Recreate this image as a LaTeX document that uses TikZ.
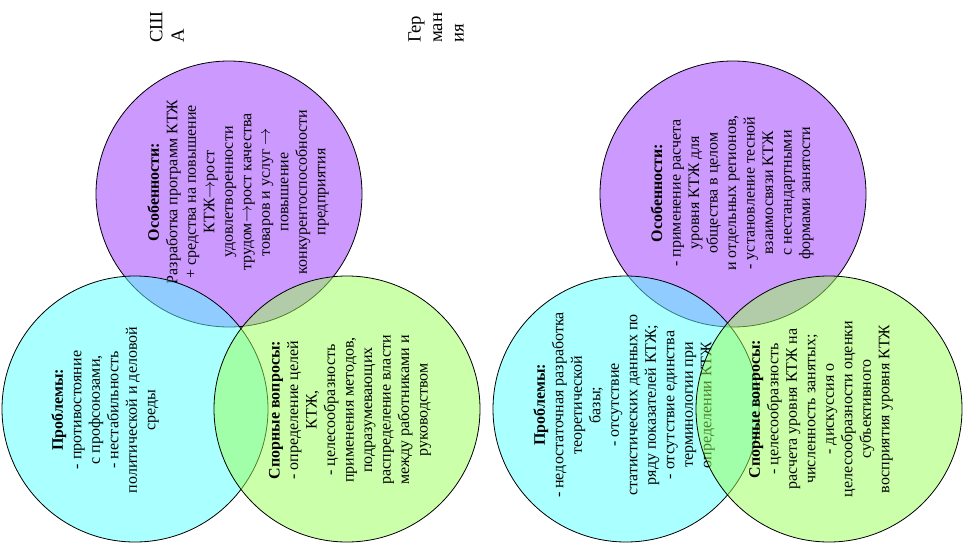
\documentclass[tikz,border=0pt]{standalone}
\usepackage{fontspec}
\setmainfont{Liberation Serif}
\definecolor{pcol}{RGB}{204,153,255}
\definecolor{ccol}{RGB}{85,255,255}
\definecolor{gcol}{RGB}{153,255,85}
\tikzset{
  ring/.style={circle, inner sep=0pt, outer sep=0pt, minimum size=266pt, draw=black, line width=0.8pt},
  purpc/.style={ring, fill=pcol},
  cyanc/.style={ring, fill=ccol, fill opacity=0.5, draw opacity=1},
  greenc/.style={ring, fill=gcol, fill opacity=0.5, draw opacity=1},
  bodytext/.style={rotate=90, align=center, inner sep=0pt, font=\fontsize{16}{18.5}\selectfont},
  labeltext/.style={rotate=90, align=left, inner sep=0pt, anchor=west, font=\fontsize{18.7}{21.5}\selectfont}
}
\begin{document}
\begin{tikzpicture}[x=1pt,y=-1pt]
\useasboundingbox (0,0) rectangle (963,543);
% ---------- USA ----------
\node[labeltext] (usalabel) at (167,43) {СШ\\А};
\node[purpc] (usaP) at (229,194) {};
\node[bodytext] (usaPt) at (238,192) {\textbf{Особенности:}\\
Разработка программ КТЖ\\
+ средства на повышение\\
КТЖ$\to$рост\\
удовлетворенности\\
трудом$\to$рост качества\\
товаров и услуг $\to$\\
повышение\\
конкурентоспособности\\
предприятия};
\node[cyanc] (usaC) at (135,409) {};
\node[bodytext] (usaCt) at (105,410) {\textbf{Проблемы:}\\
- противостояние\\
с профсоюзами,\\
- нестабильность\\
политической и деловой\\
среды};
\node[greenc] (usaG) at (347,409) {};
\node[bodytext] (usaGt) at (350,410) {\textbf{Спорные вопросы:}\\
- определение целей\\
КТЖ,\\
- целесообразность\\
применения методов,\\
подразумевающих\\
распределение власти\\
между работниками и\\
руководством};
% ---------- Germany ----------
\node[labeltext] (gerlabel) at (436,43) {Гер\\ман\\ия};
\node[purpc] (gerP) at (733,194) {};
\node[bodytext] (gerPt) at (732,193) {\textbf{Особенности:}\\
- применение расчета\\
уровня КТЖ для\\
общества в целом\\
и отдельных регионов,\\
- установление тесной\\
взаимосвязи КТЖ\\
с нестандартными\\
формами занятости};
\node[cyanc] (gerC) at (626,409) {};
\node[bodytext] (gerCt) at (624,405) {\textbf{Проблемы:}\\
- недостаточная разработка\\
теоретической\\
базы;\\
- отсутствие\\
статистических данных по\\
ряду показателей КТЖ;\\
- отсутствие единства\\
терминологии при\\
определении КТЖ};
\node[greenc] (gerG) at (829,409) {};
\node[bodytext] (gerGt) at (821,409) {\textbf{Спорные вопросы:}\\
- целесообразность\\
расчета уровня КТЖ на\\
численность занятых;\\
- дискуссия о\\
целесообразности оценки\\
субъективного\\
восприятия уровня КТЖ};
\end{tikzpicture}
\end{document}
